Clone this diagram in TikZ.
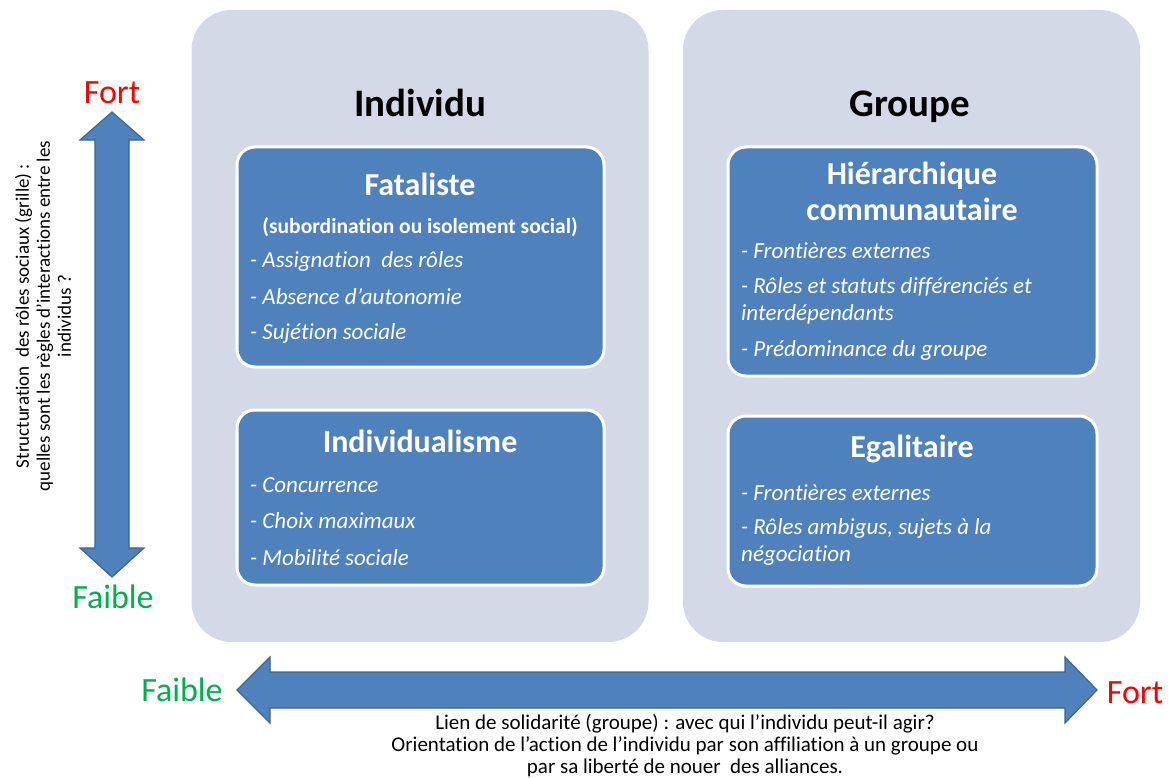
\documentclass[tikz,border=0pt]{standalone}
\usepackage{fontspec}
\setmainfont{Carlito}[Ligatures=NoCommon]
\usetikzlibrary{positioning, calc}
\definecolor{mPanel}{HTML}{D3D9E7}
\definecolor{mBox}{HTML}{4F81BD}
\definecolor{mEdge}{HTML}{3B6594}
\definecolor{mRed}{HTML}{FF0000}
\definecolor{mGreen}{HTML}{00B050}
\newcommand{\fsz}[2]{\fontsize{#1}{#2}\selectfont}

\begin{document}
\begin{tikzpicture}[x=1pt, y=-1pt,
  panel/.style={fill=mPanel, rounded corners=40pt, minimum width=457pt, minimum height=632pt, inner sep=0pt},
  card/.style={fill=mBox, draw=white, line width=3pt, rounded corners=18pt, inner sep=0pt},
  heading/.style={font=\fsz{39}{44}\bfseries, text=black, anchor=base},
  cardtitle/.style={font=\fsz{32}{36}\bfseries, text=white, align=center},
  item/.style={font=\fsz{23}{27}\itshape, text=white, anchor=west, inner sep=0pt, align=left},
  axisarrow/.style={fill=mBox, draw=mEdge, line width=1.2pt, line join=miter},
  strong/.style={font=\fsz{34}{40}, text=mRed},
  weak/.style={font=\fsz{34}{40}, text=mGreen},
  caption/.style={font=\fsz{21}{22}, align=center}]
  \useasboundingbox (0,0) rectangle (1172,778);
  % two panels
  \node[panel] (indiv) at (420,326) {};
  \node[panel] (group) at (911.5,326) {};
  \node[heading] (indivT) at (420,117) {Individu};
  \node[heading] (groupT) at (910,117) {Groupe};
  % individu side
  \node[card, minimum width=367pt, minimum height=220pt] (fat) at (420.5,257) {};
  \node[cardtitle] (fatT) at (420,184) {Fataliste};
  \node[font=\fsz{21.5}{24}\bfseries, text=white] (fatS) at (420,227) {(subordination ou isolement social)};
  \node[item] (fat1) at (250,261) {- Assignation\ \ des rôles};
  \node[item] (fat2) at (250,297) {- Absence d’autonomie};
  \node[item] (fat3) at (250,333) {- Sujétion sociale};
  \node[card, minimum width=367pt, minimum height=175pt] (ind) at (420.5,497.5) {};
  \node[cardtitle] (indT) at (420,441) {Individualisme};
  \node[item] (ind1) at (250,485) {- Concurrence};
  \node[item] (ind2) at (250,521) {- Choix maximaux};
  \node[item] (ind3) at (250,558) {- Mobilité sociale};
  % groupe side
  \node[card, minimum width=369pt, minimum height=229pt] (hie) at (912.5,261.5) {};
  \node[cardtitle] (hieT) at (912,191) {Hiérarchique\\communautaire};
  \node[item] (hie1) at (741,251) {- Frontières externes};
  \node[item] (hie2) at (741,300.5) {- Rôles et statuts différenciés et\\interdépendants};
  \node[item] (hie3) at (741,350) {- Prédominance du groupe};
  \node[card, minimum width=369pt, minimum height=170pt] (ega) at (912.5,501) {};
  \node[cardtitle] (egaT) at (912,449) {Egalitaire};
  \node[item] (ega1) at (741,493) {- Frontières externes};
  \node[item] (ega2) at (741,542) {- Rôles ambigus, sujets à la\\négociation};
  % vertical axis (grille)
  \draw[axisarrow] (112,112) -- (144,140) -- (129,140) -- (129,548) -- (144,548) -- (112,577)
    -- (80,548) -- (95,548) -- (95,140) -- (80,140) -- cycle;
  \node[strong] (vFort) at (112,93) {Fort};
  \node[weak] (vFaible) at (113,597) {Faible};
  \node[caption, font=\fsz{19}{21}, rotate=90] (vLab) at (43,316) {Structuration\ \ des rôles sociaux (grille) :\\quelles sont les règles d’interactions entre les\\individus ?};
  % horizontal axis (groupe)
  \draw[axisarrow] (237,690) -- (270,657) -- (270,672) -- (1065,672) -- (1065,657) -- (1097,690)
    -- (1065,723) -- (1065,708) -- (270,708) -- (270,723) -- cycle;
  \node[weak] (hFaible) at (182,690) {Faible};
  \node[strong] (hFort) at (1135,693) {Fort};
  \node[caption] (hLab) at (685,746) {Lien de solidarité (groupe) : avec qui l’individu peut-il agir?\\Orientation de l’action de l’individu par son affiliation à un groupe ou\\par sa liberté de nouer\ \ des alliances.};
\end{tikzpicture}
\end{document}
